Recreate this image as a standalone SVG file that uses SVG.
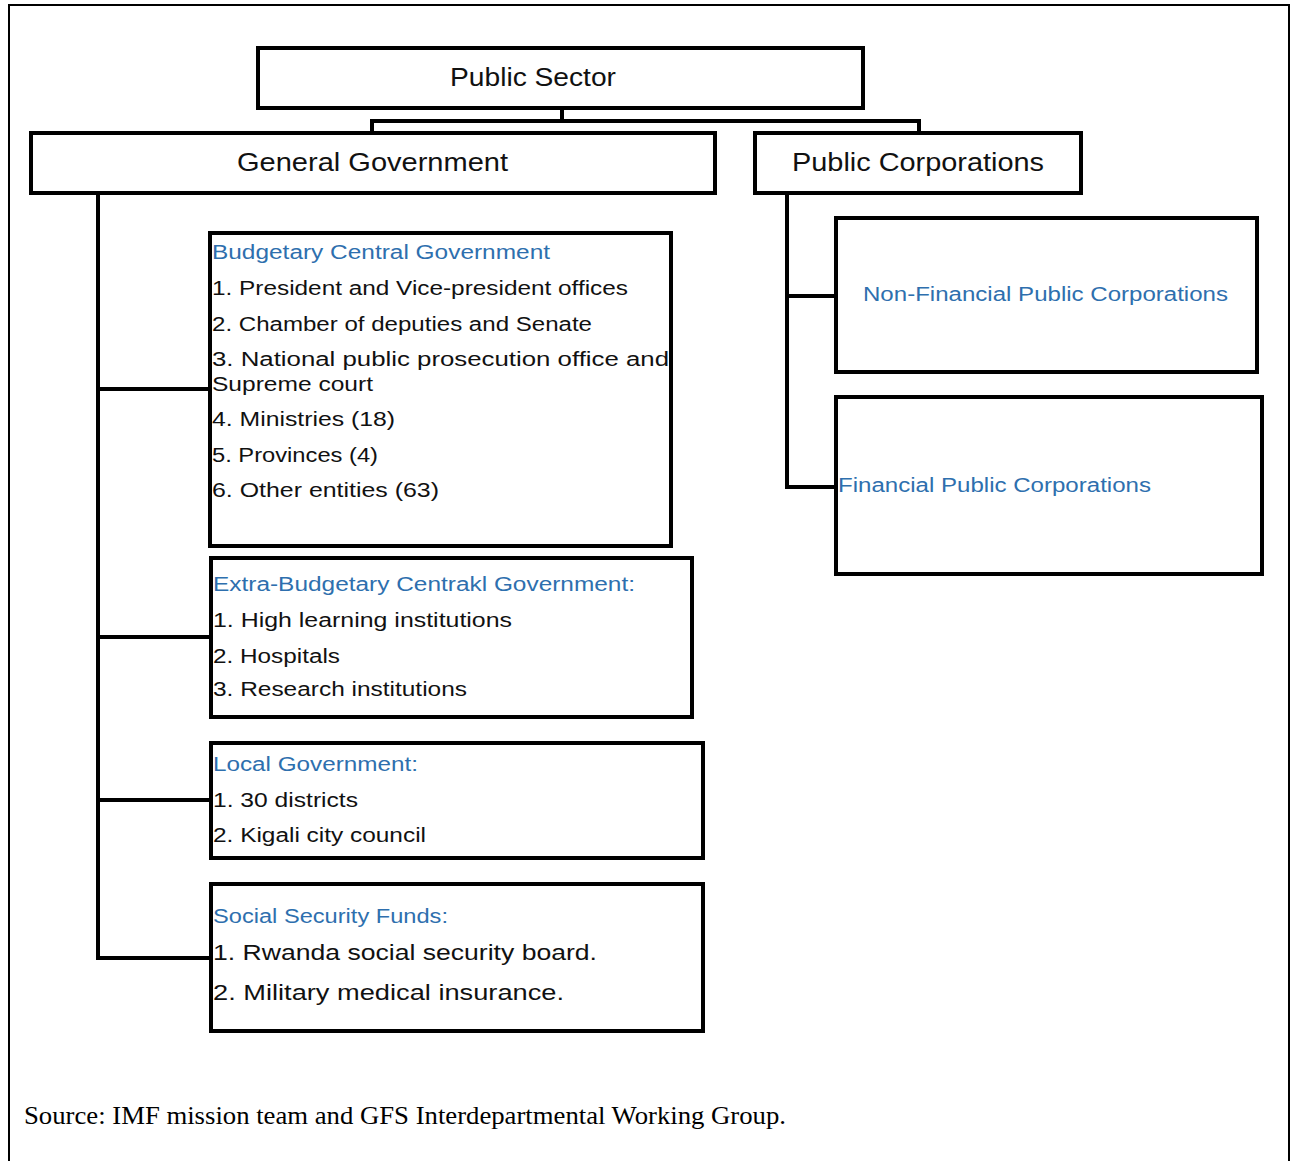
<svg xmlns="http://www.w3.org/2000/svg" width="1290" height="1161" viewBox="0 0 1290 1161">
<style>
.box{fill:#fff;stroke:#000;stroke-width:4}
.con{fill:none;stroke:#000;stroke-width:4}
.t{font-family:"Liberation Sans",Arial,sans-serif;fill:#111}
.h{font-size:25px}
.s{font-size:20px}
.b{fill:#2E6FAE}
.src{font-family:"Liberation Serif","Times New Roman",serif;font-size:25px;fill:#000}
</style>
<rect x="0" y="0" width="1290" height="1161" fill="#fff"/>
<path d="M9,1161 V5 H1289 V1161" fill="none" stroke="#000" stroke-width="2"/>
<g id="connectors">
<path class="con" d="M562,108 V121 M372,132 V121 H919 V132"/>
<path class="con" d="M98,193 V958 M98,389 H210 M98,637 H210 M98,800 H210 M96,958 H210"/>
<path class="con" d="M787,193 V487 H835 M787,296 H835"/>
</g>
<g id="public-sector">
<rect class="box" x="258" y="48" width="605" height="60"/>
<text class="t h" x="450" y="86" textLength="166" lengthAdjust="spacingAndGlyphs">Public Sector</text>
</g>
<g id="general-government">
<rect class="box" x="31" y="133" width="684" height="60"/>
<text class="t h" x="237" y="171" textLength="271" lengthAdjust="spacingAndGlyphs">General Government</text>
</g>
<g id="public-corporations">
<rect class="box" x="755" y="133" width="326" height="60"/>
<text class="t h" x="792" y="171" textLength="252" lengthAdjust="spacingAndGlyphs">Public Corporations</text>
</g>
<g id="budgetary-central-government">
<rect class="box" x="210" y="233" width="461" height="313"/>
<text class="t s b" x="212" y="259" textLength="338" lengthAdjust="spacingAndGlyphs">Budgetary Central Government</text>
<text class="t s" x="212" y="295" textLength="416" lengthAdjust="spacingAndGlyphs">1. President and Vice-president offices</text>
<text class="t s" x="212" y="331" textLength="380" lengthAdjust="spacingAndGlyphs">2. Chamber of deputies and Senate</text>
<text class="t s" x="212" y="366" textLength="457" lengthAdjust="spacingAndGlyphs">3.  National  public  prosecution  office  and</text>
<text class="t s" x="212" y="391" textLength="161" lengthAdjust="spacingAndGlyphs">Supreme court</text>
<text class="t s" x="212" y="426" textLength="183" lengthAdjust="spacingAndGlyphs">4. Ministries (18)</text>
<text class="t s" x="212" y="462" textLength="166" lengthAdjust="spacingAndGlyphs">5. Provinces (4)</text>
<text class="t s" x="212" y="497" textLength="227" lengthAdjust="spacingAndGlyphs">6. Other entities (63)</text>
</g>
<g id="extra-budgetary-central-government">
<rect class="box" x="211" y="558" width="481" height="159"/>
<text class="t s b" x="213" y="591" textLength="422" lengthAdjust="spacingAndGlyphs">Extra-Budgetary Centrakl Government:</text>
<text class="t s" x="213" y="627" textLength="299" lengthAdjust="spacingAndGlyphs">1. High learning institutions</text>
<text class="t s" x="213" y="663" textLength="127" lengthAdjust="spacingAndGlyphs">2. Hospitals</text>
<text class="t s" x="213" y="696" textLength="254" lengthAdjust="spacingAndGlyphs">3. Research institutions</text>
</g>
<g id="local-government">
<rect class="box" x="211" y="743" width="492" height="115"/>
<text class="t s b" x="213" y="771" textLength="205" lengthAdjust="spacingAndGlyphs">Local Government:</text>
<text class="t s" x="213" y="807" textLength="145" lengthAdjust="spacingAndGlyphs">1. 30 districts</text>
<text class="t s" x="213" y="842" textLength="213" lengthAdjust="spacingAndGlyphs">2. Kigali city council</text>
</g>
<g id="social-security-funds">
<rect class="box" x="211" y="884" width="492" height="147"/>
<text class="t s b" x="213" y="923" textLength="235" lengthAdjust="spacingAndGlyphs">Social Security Funds:</text>
<text class="t" font-size="22" x="213" y="960" textLength="384" lengthAdjust="spacingAndGlyphs">1. Rwanda social security board.</text>
<text class="t" font-size="22" x="213" y="1000" textLength="351" lengthAdjust="spacingAndGlyphs">2. Military medical insurance.</text>
</g>
<g id="non-financial-public-corporations">
<rect class="box" x="836" y="218" width="421" height="154"/>
<text class="t s b" x="863" y="301" textLength="365" lengthAdjust="spacingAndGlyphs">Non-Financial Public Corporations</text>
</g>
<g id="financial-public-corporations">
<rect class="box" x="836" y="397" width="426" height="177"/>
<text class="t s b" x="838" y="492" textLength="313" lengthAdjust="spacingAndGlyphs">Financial Public Corporations</text>
</g>
<text class="src" x="24" y="1124" textLength="762" lengthAdjust="spacingAndGlyphs">Source: IMF mission team and GFS Interdepartmental Working Group.</text>
</svg>
